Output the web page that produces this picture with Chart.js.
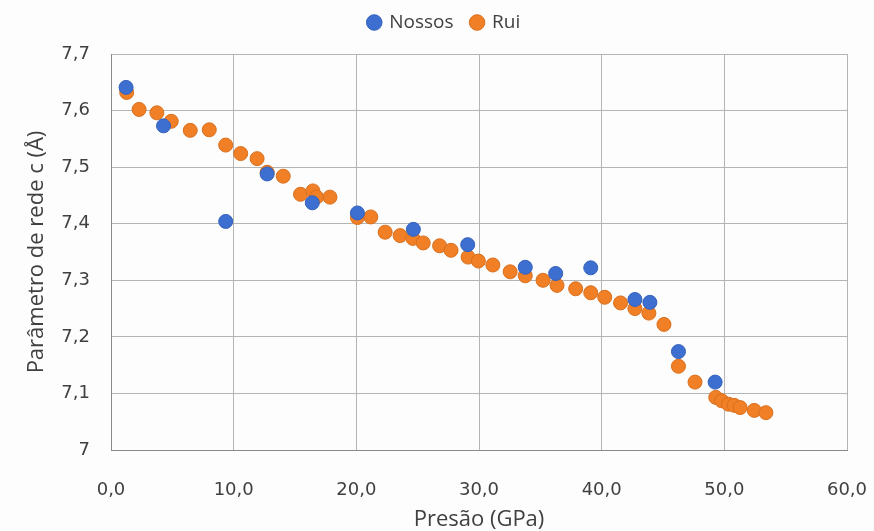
<!DOCTYPE html>
<html>
<head>
<meta charset="UTF-8">
<script src="https://cdn.jsdelivr.net/npm/chart.js@4.4.0/dist/chart.umd.min.js"></script>
<style>
  body { margin: 0; background: #fdfdfd; }
  #wrap { width: 874px; height: 531px; }
</style>
</head>
<body>
<div id="wrap"><canvas id="chart"></canvas></div>
<script>
// Nossos (blue)
var nossosP = [1.23, 4.28, 9.35, 12.73, 16.41, 20.09, 24.65, 29.08, 33.77, 36.25, 39.11, 42.71, 43.93, 46.26, 49.25];
var nossosC = [7.641, 7.573, 7.404, 7.488, 7.437, 7.419, 7.390, 7.363, 7.323, 7.312, 7.322, 7.266, 7.261, 7.174, 7.120];

// Rui (orange)
var ruiP = [1.28, 2.29, 3.74, 4.91, 6.46, 8.01, 9.35, 10.57, 11.91, 12.73, 14.04, 15.45, 16.46, 16.76, 17.85,
            20.09, 21.18, 22.35, 23.57, 24.61, 25.45, 26.79, 27.72, 29.11, 29.95, 31.13, 32.54, 33.77, 35.22,
            36.36, 37.88, 39.11, 40.25, 41.54, 42.71, 43.85, 45.08, 46.26, 47.61, 49.30, 49.79, 50.34, 50.8,
            51.29, 52.44, 53.39];
var ruiC = [7.632, 7.602, 7.596, 7.581, 7.565, 7.566, 7.539, 7.524, 7.515, 7.491, 7.484, 7.452, 7.458, 7.447, 7.447,
            7.411, 7.412, 7.385, 7.379, 7.374, 7.366, 7.361, 7.353, 7.341, 7.334, 7.327, 7.315, 7.308, 7.300,
            7.291, 7.285, 7.278, 7.270, 7.260, 7.250, 7.242, 7.222, 7.148, 7.120, 7.093, 7.087, 7.081, 7.079,
            7.075, 7.070, 7.066];

var seriesNames = ['Nossos', 'Rui'];

function pts(xs, ys) {
  var out = [];
  for (var i = 0; i < xs.length; i++) out.push({ x: xs[i], y: ys[i] });
  return out;
}

var bgPlugin = {
  id: 'bg',
  beforeDraw: function (c) {
    var ctx = c.ctx;
    ctx.save();
    ctx.fillStyle = '#fdfdfd';
    ctx.fillRect(0, 0, c.width, c.height);
    ctx.restore();
  }
};

// tweak legend box: less height, moved up and a bit to the right
var legendGap = {
  id: 'legendGap',
  beforeLayout: function (c) {
    var lg = c.legend;
    if (lg && !lg._gapPatched) {
      var f = lg.fit;
      lg.fit = function () { f.call(this); this.height += 2; };
      lg._gapPatched = true;
    }
  },
  afterLayout: function (c) {
    if (c.legend) { c.legend.left += 18; c.legend.top -= 10; }
  }
};

var txt = '#404040';

new Chart(document.getElementById('chart'), {
  type: 'scatter',
  data: {
    datasets: [
      { label: seriesNames[0], data: pts(nossosP, nossosC), backgroundColor: '#3d6fd0', borderColor: '#3461bb', borderWidth: 1, pointRadius: 7 },
      { label: seriesNames[1], data: pts(ruiP, ruiC), backgroundColor: '#f07f26', borderColor: '#d9701e', borderWidth: 1, pointRadius: 7 }
    ]
  },
  options: {
    responsive: true,
    maintainAspectRatio: false,
    animation: false,
    layout: { padding: { top: 5, right: 27, bottom: 0, left: 24 } },
    plugins: {
      tooltip: { enabled: false },
      legend: {
        position: 'top',
        labels: {
          usePointStyle: true, pointStyle: 'circle', boxWidth: 11, boxHeight: 11,
          color: txt, padding: 18,
          font: { family: 'Open Sans', size: 19 }
        }
      }
    },
    scales: {
      x: {
        type: 'linear', min: 0, max: 60,
        ticks: {
          stepSize: 10, color: txt, padding: 30,
          font: { family: 'DejaVu Sans', size: 18 },
          callback: function (v) { return v.toFixed(1).replace('.', ','); }
        },
        grid: { color: '#b4b4b4', lineWidth: 1, drawTicks: false },
        border: { color: '#8a8a8a' },
        title: { display: true, text: 'Presão (GPa)', color: txt, font: { family: 'Open Sans', size: 22, lineHeight: 1.0 }, padding: { top: 4, bottom: 0 } },
        afterFit: function (s) { s.height = 81; s.paddingLeft = 0; s.paddingRight = 0; }
      },
      y: {
        type: 'linear', min: 7, max: 7.7,
        ticks: {
          stepSize: 0.1, color: txt, padding: 21,
          font: { family: 'DejaVu Sans', size: 18 },
          callback: function (v) {
            var r = Math.round(v * 10) / 10;
            return r === 7 ? '7' : r.toFixed(1).replace('.', ',');
          }
        },
        grid: { color: '#b4b4b4', lineWidth: 1, drawTicks: false },
        border: { color: '#8a8a8a' },
        title: { display: true, text: 'Parâmetro de rede c (Å)', color: txt, font: { family: 'Open Sans', size: 22 }, padding: { top: 0, bottom: 4 } },
        afterFit: function (s) { s.width = 87; }
      }
    }
  },
  plugins: [bgPlugin, legendGap]
});
</script>
</body>
</html>
